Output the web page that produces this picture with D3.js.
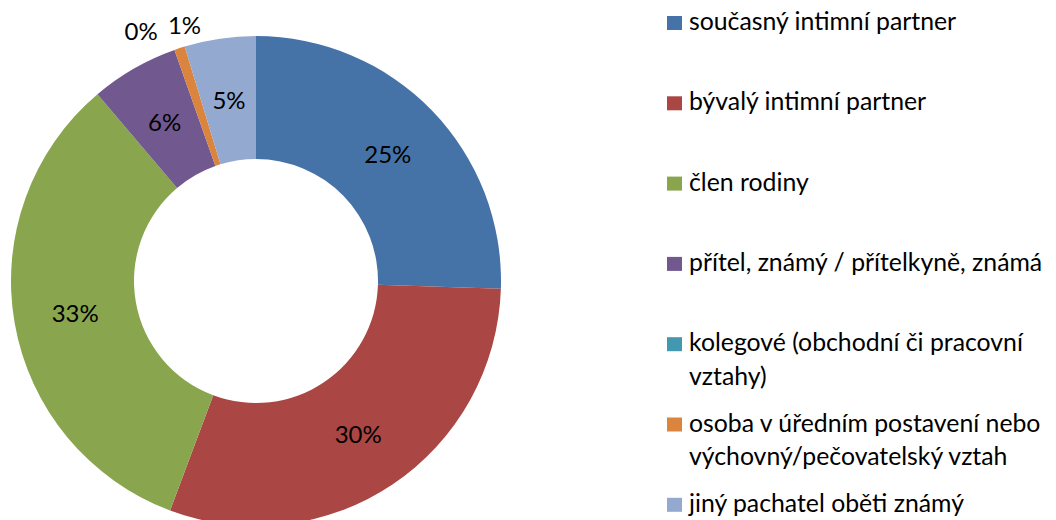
<!DOCTYPE html>
<html>
<head>
<meta charset="utf-8">
<script src="https://cdn.jsdelivr.net/npm/d3@7"></script>
<style>
  html, body { margin: 0; padding: 0; background: #fff; }
  svg { display: block; }
  text { font-family: Lato, "Open Sans", sans-serif; fill: #000; }
</style>
</head>
<body>
<svg id="chart" width="1056" height="520"></svg>
<script>
// Data
const categories = [
  "současný intimní partner",
  "bývalý intimní partner",
  "člen rodiny",
  "přítel, známý / přítelkyně, známá",
  "kolegové (obchodní či pracovní vztahy)",
  "osoba v úředním postavení nebo výchovný/pečovatelský vztah",
  "jiný pachatel oběti známý"
];
const legendLines = [
  ["současný intimní partner"],
  ["bývalý intimní partner"],
  ["člen rodiny"],
  ["přítel, známý / přítelkyně, známá"],
  ["kolegové (obchodní či pracovní", "vztahy)"],
  ["osoba v úředním postavení nebo", "výchovný/pečovatelský vztah"],
  ["jiný pachatel oběti známý"]
];
const values = [25.5, 30.2, 33.1, 5.8, 0.0, 0.7, 4.7];
const labels = ["25%", "30%", "33%", "6%", "0%", "1%", "5%"];
const colors = ["#4572A7", "#AA4643", "#89A54E", "#71588F", "#4198AF", "#DB843D", "#93A9CF"];

const svg = d3.select("#chart");
const cx = 256, cy = 281, outerR = 245, innerR = 122;
const labelFont = 24, legendFont = 24.8;

const pie = d3.pie().sort(null).value(d => d);
const arcs = pie(values);
const arc = d3.arc().innerRadius(innerR).outerRadius(outerR);

const g = svg.append("g").attr("transform", `translate(${cx},${cy})`);
g.selectAll("path.slice")
  .data(arcs)
  .join("path")
  .attr("class", "slice")
  .attr("d", arc)
  .attr("fill", (d, i) => colors[i]);

// Labels: inside for large slices, outside for tiny ones
const midArc = d3.arc().innerRadius((innerR + outerR) / 2).outerRadius((innerR + outerR) / 2);
const outsideNudge = { 4: { r: 276, da: -0.09 }, 5: { r: 266, da: 0.045 } };
g.selectAll("text.lbl")
  .data(arcs)
  .join("text")
  .attr("class", "lbl")
  .attr("text-anchor", "middle")
  .attr("dominant-baseline", "central")
  .style("font-size", labelFont + "px")
  .attr("transform", (d, i) => {
    if (outsideNudge[i]) {
      const n = outsideNudge[i];
      const a = (d.startAngle + d.endAngle) / 2 + n.da;
      return `translate(${n.r * Math.sin(a)},${-n.r * Math.cos(a)})`;
    }
    const c = midArc.centroid(d);
    return `translate(${c[0]},${c[1]})`;
  })
  .text((d, i) => labels[i]);

// Legend
const legendX = 667, legendY0 = 30, legendStep = 80.3, lineH = 33.5, sw = 15, sh = 14;
const lg = svg.append("g");
legendLines.forEach((lines, i) => {
  const y = legendY0 + i * legendStep;
  lg.append("rect")
    .attr("x", legendX).attr("y", y - sh)
    .attr("width", sw).attr("height", sh)
    .attr("fill", colors[i]);
  const t = lg.append("text")
    .attr("x", legendX + 22).attr("y", y)
    .style("font-size", legendFont + "px");
  lines.forEach((ln, j) => {
    t.append("tspan").attr("x", legendX + 22).attr("y", y + j * lineH).text(ln);
  });
});
</script>
</body>
</html>
